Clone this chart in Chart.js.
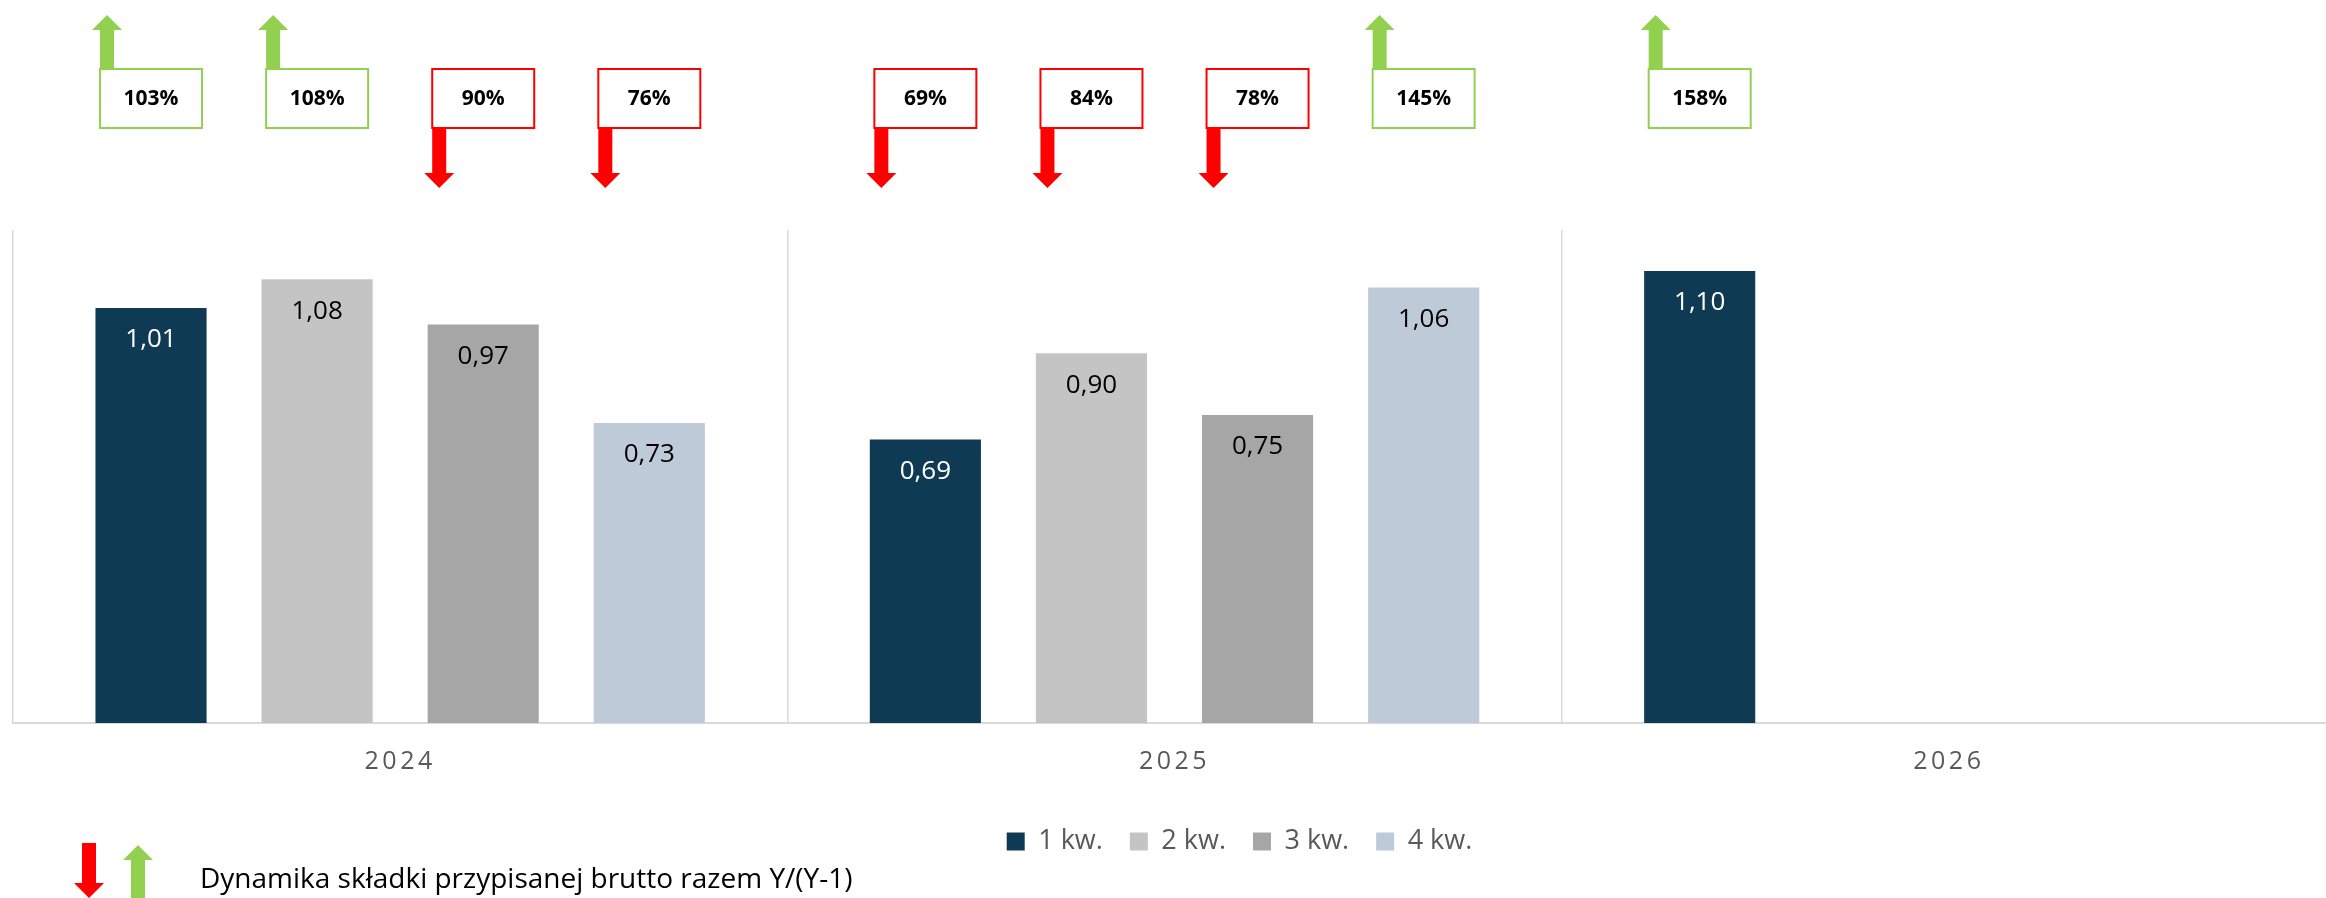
<!DOCTYPE html>
<html lang="pl">
<head>
<meta charset="UTF-8">
<title>Składka przypisana brutto</title>
<script src="https://cdn.jsdelivr.net/npm/chart.js"></script>
<style>
  body { margin: 0; background: #fff; overflow: hidden; }
  #wrap { width: 2340px; height: 898px; }
</style>
</head>
<body>
<div id="wrap"><canvas id="premiumChart" width="2340" height="898"></canvas></div>
<script>
// categories
const years = ['2024', '2025', '2026'];
const quarters = ['1 kw.', '2 kw.', '3 kw.', '4 kw.'];

// values per quarter, one entry per year
const q1 = [1.01, 0.69, 1.10];
const q2 = [1.08, 0.90, null];
const q3 = [0.97, 0.75, null];
const q4 = [0.73, 1.06, null];

// dynamika Y/(Y-1) in %, same layout
const q1Dyn = [103, 69, 158];
const q2Dyn = [108, 84, null];
const q3Dyn = [90, 78, null];
const q4Dyn = [76, 145, null];

const barColors = ['#0E3A54', '#C4C4C4', '#A6A6A6', '#BECAD8'];
const labelColors = ['#FFFFFF', '#000000', '#000000', '#000000'];
const GREEN = '#92D050';
const RED = '#FF0000';
const FONT = "'Open Sans', 'Liberation Sans', sans-serif";

const series = [q1, q2, q3, q4];
const dynamics = [q1Dyn, q2Dyn, q3Dyn, q4Dyn];

function fmt(v) {
    return v.toFixed(2).replace('.', ',');
}

// vertical block arrow, cx = shaft centre
function arrow(ctx, cx, yFrom, yTip, color) {
    const dir = yTip > yFrom ? 1 : -1;
    const headLen = 15, shaft = 7, head = 15;
    const base = yTip - dir * headLen;
    ctx.fillStyle = color;
    ctx.beginPath();
    ctx.moveTo(cx - shaft, yFrom);
    ctx.lineTo(cx - shaft, base);
    ctx.lineTo(cx - head, base);
    ctx.lineTo(cx, yTip);
    ctx.lineTo(cx + head, base);
    ctx.lineTo(cx + shaft, base);
    ctx.lineTo(cx + shaft, yFrom);
    ctx.closePath();
    ctx.fill();
}

const annotations = {
    id: 'annotations',
    afterDatasetsDraw(chart) {
        const ctx = chart.ctx;
        ctx.save();
        ctx.font = '26px ' + FONT;
        ctx.textAlign = 'center';
        ctx.textBaseline = 'middle';
        chart.data.datasets.forEach((ds, i) => {
            chart.getDatasetMeta(i).data.forEach((bar, j) => {
                if (ds.data[j] == null) return;
                ctx.fillStyle = labelColors[i];
                ctx.fillText(fmt(ds.data[j]), bar.x, bar.y + 32);
            });
        });
        ctx.restore();
        // x tick labels come next (ticks.z = 1), spaced out like the original
        ctx.letterSpacing = '3.5px';
    },
    afterDraw(chart) {
        const ctx = chart.ctx;
        ctx.letterSpacing = '0px';
        ctx.save();
        const boxTop = 69, boxW = 102, boxH = 59;
        chart.data.datasets.forEach((ds, i) => {
            chart.getDatasetMeta(i).data.forEach((bar, j) => {
                const v = dynamics[i][j];
                if (v == null || ds.data[j] == null) return;
                const up = v >= 100;
                const col = up ? GREEN : RED;
                const left = bar.x - boxW / 2;
                if (up) arrow(ctx, left + 7, boxTop + 1, 15, col);
                else arrow(ctx, left + 7, boxTop + boxH - 1, 188, col);
                ctx.fillStyle = '#fff';
                ctx.fillRect(left, boxTop, boxW, boxH);
                ctx.strokeStyle = col;
                ctx.lineWidth = 2;
                ctx.strokeRect(left, boxTop, boxW, boxH);
                ctx.fillStyle = '#000';
                ctx.font = 'bold 21px ' + FONT;
                ctx.textAlign = 'center';
                ctx.textBaseline = 'middle';
                ctx.fillText(v + '%', bar.x, boxTop + boxH / 2 + 1);
            });
        });

        // arrow key at the bottom
        arrow(ctx, 89, 843, 898, RED);
        arrow(ctx, 138, 898, 845, GREEN);
        ctx.fillStyle = '#000';
        ctx.font = '28px ' + FONT;
        ctx.textAlign = 'left';
        ctx.textBaseline = 'alphabetic';
        ctx.fillText('Dynamika składki przypisanej brutto razem Y/(Y-1)', 200, 888);
        ctx.restore();
    }
};

// Excel puts the series legend a bit right of centre
const legendShift = {
    id: 'legendShift',
    afterLayout(chart) {
        chart.legend.left += 65;
        chart.legend.right += 65;
    }
};

const ctx = document.getElementById('premiumChart').getContext('2d');
new Chart(ctx, {
    type: 'bar',
    data: {
        labels: years,
        datasets: quarters.map((q, i) => ({
            label: q,
            data: series[i],
            backgroundColor: barColors[i],
            categoryPercentage: 0.858,
            barPercentage: 0.669
        }))
    },
    options: {
        responsive: false,
        animation: false,
        devicePixelRatio: 1,
        layout: { padding: { top: 230, left: 13, right: 4, bottom: 33 } },
        plugins: {
            legend: {
                position: 'bottom',
                labels: {
                    boxWidth: 18,
                    boxHeight: 18,
                    padding: 27,
                    color: '#595959',
                    font: { family: FONT, size: 27 }
                }
            },
            tooltip: { enabled: false }
        },
        scales: {
            x: {
                grid: { color: '#D9D9D9', lineWidth: 1.5, drawTicks: false },
                border: { color: '#D9D9D9', width: 2 },
                ticks: { color: '#595959', font: { family: FONT, size: 25 }, padding: 24, z: 1 }
            },
            y: { display: false, min: 0, max: 1.2 }
        }
    },
    plugins: [annotations, legendShift]
});
</script>
</body>
</html>
